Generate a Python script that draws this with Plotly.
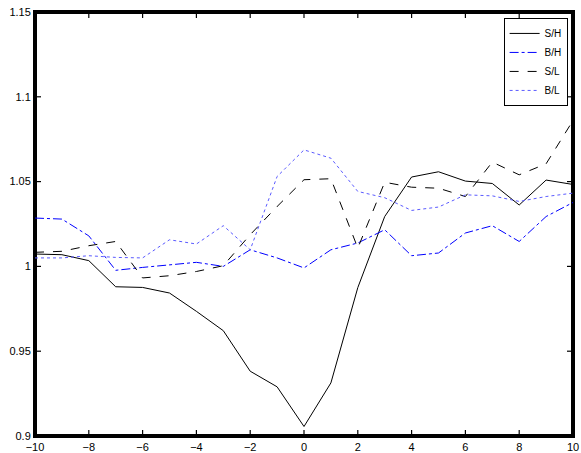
import plotly.graph_objects as go

x = list(range(-10, 11))
s_h = [1.0073, 1.0069, 1.0034, 0.988, 0.9876, 0.9843, 0.9735, 0.9621, 0.9382, 0.929, 0.9056,
       0.9313, 0.9875, 1.0294, 1.0527, 1.0558, 1.0503, 1.0489, 1.0362, 1.0509, 1.0483]
b_h = [1.0285, 1.0279, 1.018, 0.9977, 0.9994, 1.001, 1.0024, 1.0, 1.0098, 1.005, 0.9991,
       1.0098, 1.0138, 1.0216, 1.0063, 1.0079, 1.0197, 1.024, 1.0147, 1.0294, 1.0377]
s_l = [1.0083, 1.0089, 1.0122, 1.0147, 0.9932, 0.9945, 0.997, 1.0004, 1.0187, 1.0353, 1.0511,
       1.0517, 1.0108, 1.0496, 1.0467, 1.0461, 1.0412, 1.0615, 1.054, 1.0605, 1.086]
b_l = [1.005, 1.005, 1.0063, 1.0053, 1.005, 1.0157, 1.0132, 1.024, 1.0098, 1.053, 1.0687,
       1.0638, 1.0442, 1.0405, 1.033, 1.035, 1.0422, 1.0416, 1.0383, 1.0412, 1.0432]

x_ticks = list(range(-10, 11, 2))
y_ticks = [0.9, 0.95, 1.0, 1.05, 1.1, 1.15]
y_tick_text = ["0.9", "0.95", "1", "1.05", "1.1", "1.15"]

x_range = [-10, 10]
y_range = [0.9, 1.15]

W, H = 581, 453
M = dict(l=35, r=8, t=12, b=17)
plot_w = W - M["l"] - M["r"]
plot_h = H - M["t"] - M["b"]
TICK = 6
tx = TICK * (x_range[1] - x_range[0]) / plot_w   # tick length in x data units
ty = TICK * (y_range[1] - y_range[0]) / plot_h   # tick length in y data units

fig = go.Figure()

# frame (clipped to the plot area, so half of the stroke shows inside)
fig.add_trace(go.Scatter(
    x=[x_range[0], x_range[1], x_range[1], x_range[0], x_range[0]],
    y=[y_range[0], y_range[0], y_range[1], y_range[1], y_range[0]],
    mode="lines", line=dict(color="black", width=4), showlegend=False,
    hoverinfo="skip", cliponaxis=True))

# tick marks (inside, mirrored)
tk_x, tk_y = [], []
for v in x_ticks[1:-1]:
    tk_x += [v, v, None, v, v, None]
    tk_y += [y_range[0], y_range[0] + ty, None, y_range[1], y_range[1] - ty, None]
for v in y_ticks[1:-1]:
    tk_x += [x_range[0], x_range[0] + tx, None, x_range[1], x_range[1] - tx, None]
    tk_y += [v, v, None, v, v, None]
fig.add_trace(go.Scatter(x=tk_x, y=tk_y, mode="lines", line=dict(color="black", width=1.2),
                         showlegend=False, hoverinfo="skip", cliponaxis=True,
                         connectgaps=False))

fig.add_trace(go.Scatter(x=x, y=s_h, mode="lines", name="S/H",
                         line=dict(color="black", width=1, dash="solid")))
fig.add_trace(go.Scatter(x=x, y=b_h, mode="lines", name="B/H",
                         line=dict(color="blue", width=1, dash="dashdot")))
fig.add_trace(go.Scatter(x=x, y=s_l, mode="lines", name="S/L",
                         line=dict(color="black", width=1, dash="dash")))
fig.add_trace(go.Scatter(x=x, y=b_l, mode="lines", name="B/L",
                         line=dict(color="#5a5aff", width=1, dash="dot")))

axis_common = dict(showline=True, linecolor="black", linewidth=2, mirror=True,
                   ticks="", showgrid=False,
                   zeroline=False, automargin=False,
                   tickfont=dict(family="Liberation Sans, Arial", size=11, color="black"))

fig.update_layout(
    template="simple_white",
    width=W, height=H,
    margin=dict(**M, autoexpand=False),
    paper_bgcolor="white", plot_bgcolor="white",
    showlegend=True,
    legend=dict(x=0.99, y=0.986, xanchor="right", yanchor="top",
                bordercolor="black", borderwidth=1, bgcolor="white",
                font=dict(family="Liberation Sans, Arial", size=10, color="black"),
                tracegroupgap=0, itemwidth=30),
    xaxis=dict(range=x_range, tickvals=x_ticks, **axis_common),
    yaxis=dict(range=y_range, tickvals=y_ticks, ticktext=y_tick_text, **axis_common),
)

fig.write_html("out.html", config={"displayModeBar": False},
               post_script="document.body.style.margin='0';document.body.style.padding='0';")
